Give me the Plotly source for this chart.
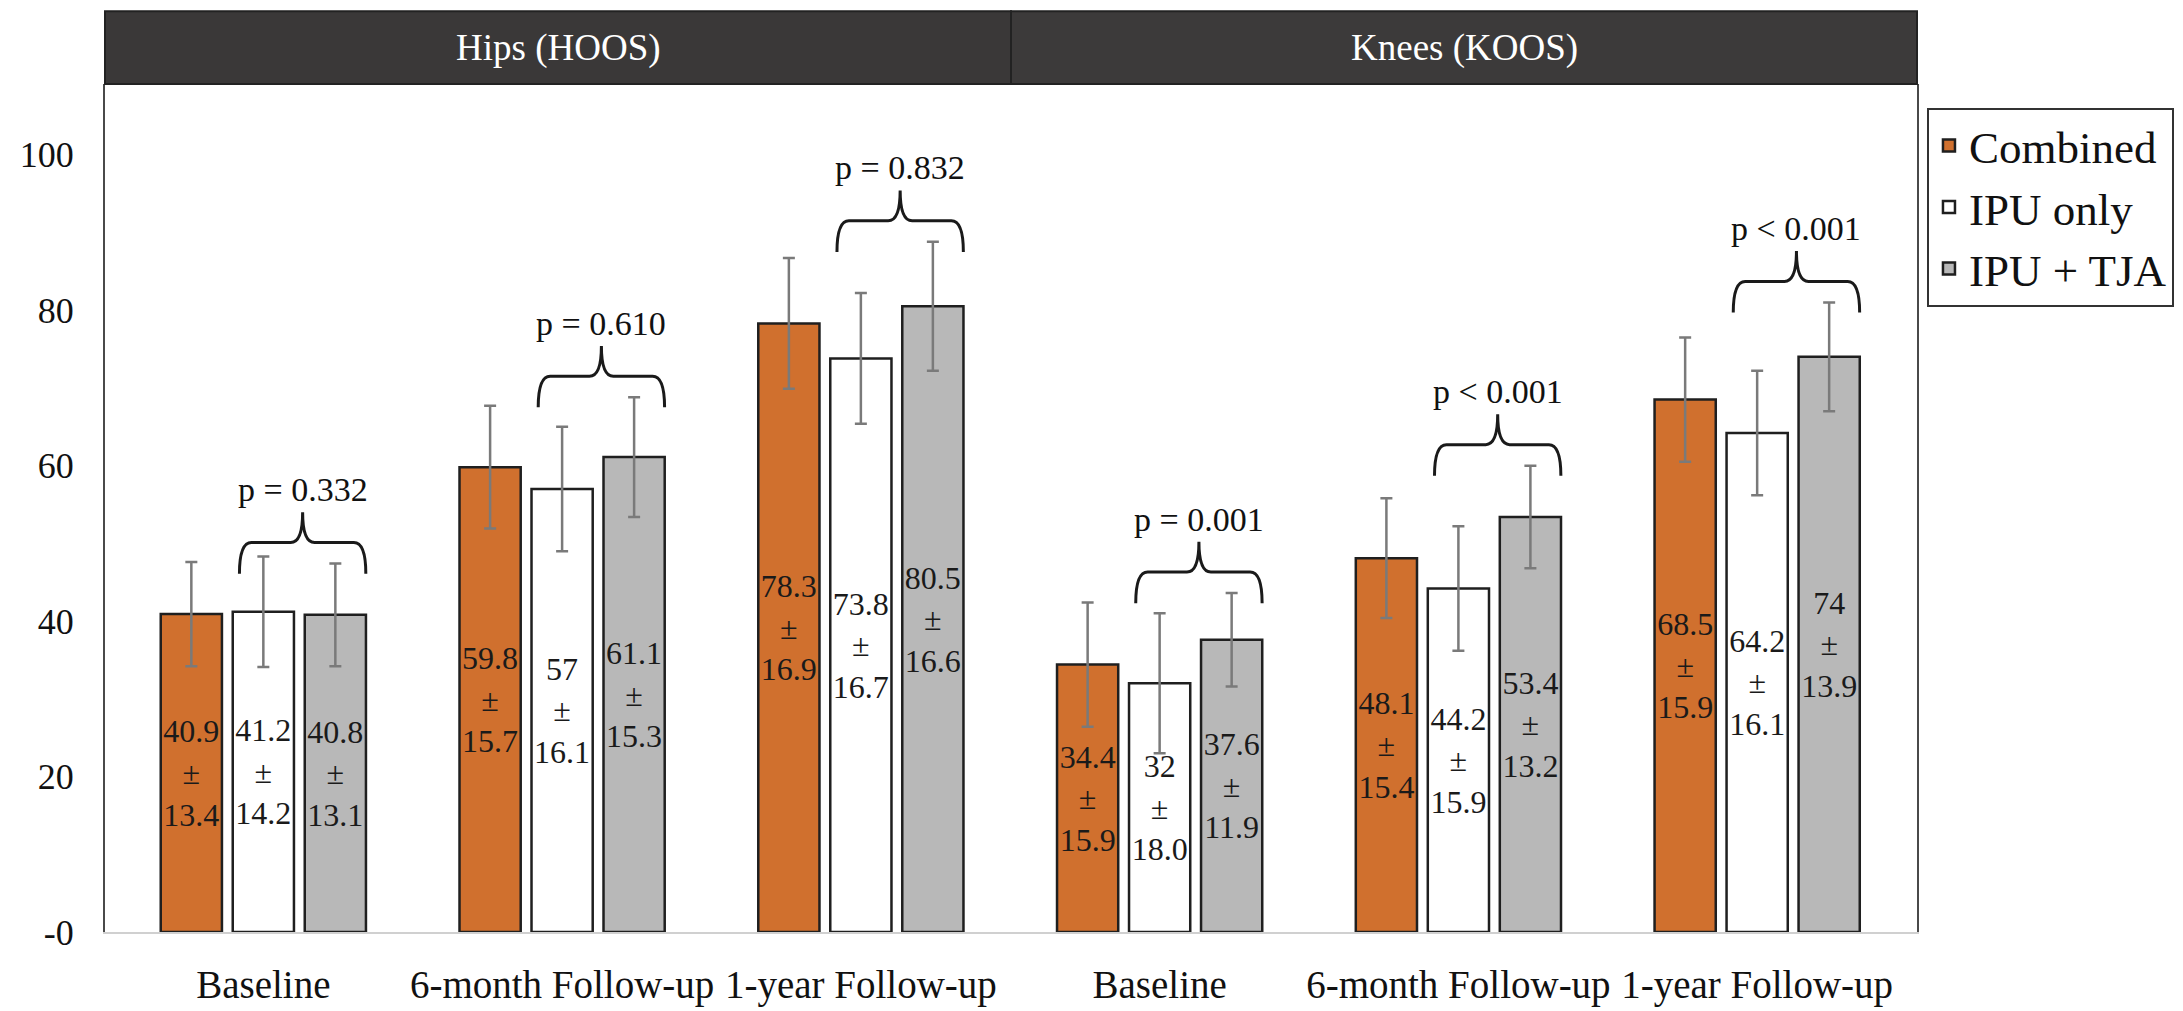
import plotly.graph_objects as go

# ---------------- data ----------------
categories = ["Baseline", "6-month Follow-up", "1-year Follow-up",
              "Baseline", "6-month Follow-up", "1-year Follow-up"]
panels = ["Hips (HOOS)", "Knees (KOOS)"]
series_names = ["Combined", "IPU only", "IPU + TJA"]

combined_mean = [40.9, 59.8, 78.3, 34.4, 48.1, 68.5]
combined_sd = [13.4, 15.7, 16.9, 15.9, 15.4, 15.9]
combined_err = [6.7, 7.9, 8.4, 8.0, 7.7, 8.0]

ipu_mean = [41.2, 57.0, 73.8, 32.0, 44.2, 64.2]
ipu_sd = [14.2, 16.1, 16.7, 18.0, 15.9, 16.1]
ipu_err = [7.1, 8.0, 8.4, 9.0, 8.0, 8.0]

tja_mean = [40.8, 61.1, 80.5, 37.6, 53.4, 74.0]
tja_sd = [13.1, 15.3, 16.6, 11.9, 13.2, 13.9]
tja_err = [6.6, 7.7, 8.3, 6.0, 6.6, 7.0]

p_values = ["p = 0.332", "p = 0.610", "p = 0.832",
            "p = 0.001", "p &lt; 0.001", "p &lt; 0.001"]

y_tick_vals = [0, 20, 40, 60, 80, 100]
y_tick_text = ["-0", "20", "40", "60", "80", "100"]

# ---------------- styles ----------------
colors = ["#D0702E", "#FFFFFF", "#B8B8B8"]
FONT = "Liberation Serif"
x_idx = list(range(len(categories)))

BARGAP = 0.277
BARGROUPGAP = 0.15
slot = (1 - BARGAP) / 3

fig = go.Figure()
for name, means, sds, errs, col in zip(
        series_names,
        [combined_mean, ipu_mean, tja_mean],
        [combined_sd, ipu_sd, tja_sd],
        [combined_err, ipu_err, tja_err],
        colors):
    fig.add_trace(go.Bar(
        x=x_idx, y=means, name=name, legendgroup=name,
        marker=dict(color=col, line=dict(color="#1f1f1f", width=2.5)),
        error_y=dict(type="data", array=errs, color="#7a7a7a",
                     thickness=2.5, width=6),
        text=[f"{m:g}<br>±<br>{s:.1f}" for m, s in zip(means, sds)],
        textposition="inside", insidetextanchor="middle", textangle=0,
        constraintext="none",
        textfont=dict(family=FONT, size=32, color="#1a1a1a"),
        hoverinfo="skip",
    ))

# ---------------- braces & p-values ----------------
shapes = []
annotations = []
dx = 0.04
for i, p in enumerate(p_values):
    xL = i - 0.08
    xR = i + slot + 0.102
    xm = (xL + xR) / 2
    y0 = tja_mean[i] + tja_err[i] - 1.3
    y1 = y0 + 4.0
    y2 = y0 + 7.9
    path = (f"M {xL},{y0} Q {xL},{y1} {xL+dx},{y1} L {xm-dx},{y1} "
            f"Q {xm},{y1} {xm},{y2} Q {xm},{y1} {xm+dx},{y1} "
            f"L {xR-dx},{y1} Q {xR},{y1} {xR},{y0}")
    shapes.append(dict(type="path", path=path, xref="x", yref="y",
                       line=dict(color="#1a1a1a", width=3),
                       fillcolor="rgba(0,0,0,0)"))
    annotations.append(dict(x=xm, y=y2 + 2.9, xref="x", yref="y",
                            text=p, showarrow=False, xanchor="center",
                            yanchor="middle",
                            font=dict(family=FONT, size=34, color="#111")))

# ---------------- header band ----------------
HT = 1.0857
shapes.append(dict(type="rect", xref="paper", yref="paper", x0=0, x1=0.5,
                   y0=1.0, y1=HT, fillcolor="#3A3838",
                   line=dict(color="#222", width=2), layer="above"))
shapes.append(dict(type="rect", xref="paper", yref="paper", x0=0.5, x1=1.0,
                   y0=1.0, y1=HT, fillcolor="#3C3A3A",
                   line=dict(color="#222", width=2), layer="above"))
for k, t in enumerate(panels):
    annotations.append(dict(x=0.25 + 0.5 * k, y=(1.0 + HT) / 2,
                            xref="paper", yref="paper", text=t,
                            showarrow=False, xanchor="center",
                            yanchor="middle",
                            font=dict(family=FONT, size=37, color="white")))

fig.update_layout(
    width=2183, height=1011,
    margin=dict(l=94, r=274, t=76, b=83),
    paper_bgcolor="white", plot_bgcolor="white",
    barmode="group", bargap=BARGAP, bargroupgap=BARGROUPGAP,
    shapes=shapes, annotations=annotations,
    showlegend=True,
    legend=dict(x=1.0055, y=0.972, xanchor="left", yanchor="top",
                bordercolor="#333", borderwidth=2, bgcolor="white",
                font=dict(family=FONT, size=45, color="#111"),
                tracegroupgap=4, traceorder="normal"),
    xaxis=dict(range=[-0.53, 5.535], tickvals=x_idx, ticktext=categories,
               showgrid=False, zeroline=False, showline=True,
               linecolor="#d0d0d0", linewidth=2, ticks="outside",
               ticklen=0, ticklabelstandoff=17,
               tickfont=dict(family=FONT, size=39, color="#111")),
    yaxis=dict(range=[0, 109.1], tickvals=y_tick_vals, ticktext=y_tick_text,
               showgrid=False, zeroline=False, showline=True, mirror=True,
               linecolor="#4a4a4a", linewidth=2, ticks="outside",
               ticklen=0, ticklabelstandoff=22,
               tickfont=dict(family=FONT, size=36, color="#111")),
)

fig.write_html("out.html")
